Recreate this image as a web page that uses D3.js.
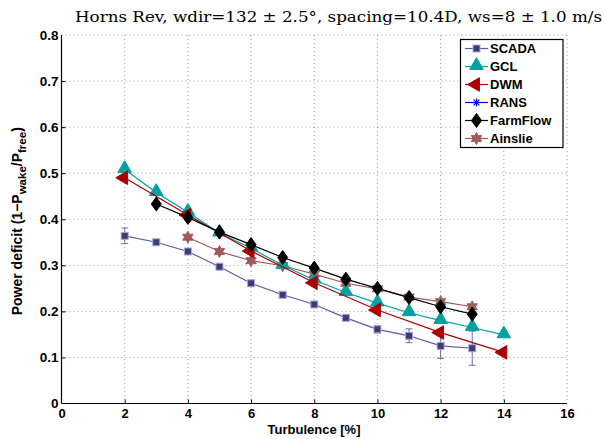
<!DOCTYPE html>
<html><head><meta charset="utf-8">
<script src="https://cdn.jsdelivr.net/npm/d3@7"></script>
<style>body{margin:0;background:#fff}svg{display:block}</style>
</head><body>
<script>
// ---- data ----
const scadaX = [2,3,4,5,6,7,8,9,10,11,12,13];
const scadaY = [0.364,0.350,0.330,0.297,0.261,0.236,0.215,0.186,0.161,0.147,0.125,0.120];
const scadaErr = [0.017,0.005,0.005,0.003,0.003,0.003,0.003,0.004,0.008,0.015,0.027,0.037];
const gclX = [2,3,4,5,6,7,8,9,10,11,12,13,14];
const gclY = [0.508,0.458,0.415,0.370,0.337,0.300,0.268,0.241,0.218,0.197,0.180,0.165,0.149];
const dwmX = [2,4,6,8,10,12,14];
const dwmY = [0.490,0.409,0.331,0.262,0.203,0.154,0.111];
const ransX = [];
const ransY = [];
const ffX = [3,4,5,6,7,8,9,10,11,12,13];
const ffY = [0.433,0.404,0.372,0.345,0.317,0.294,0.270,0.250,0.230,0.210,0.194];
const ainX = [4,5,6,7,8,9,10,11,12,13];
const ainY = [0.361,0.330,0.310,0.299,0.281,0.261,0.249,0.231,0.221,0.210];
const xTicks = [0,2,4,6,8,10,12,14,16];
const yTicks = [0,0.1,0.2,0.3,0.4,0.5,0.6,0.7,0.8];
const legendNames = ["SCADA","GCL","DWM","RANS","FarmFlow","Ainslie"];
const titleText = "Horns Rev, wdir=132 \u00b1 2.5\u00b0, spacing=10.4D, ws=8 \u00b1 1.0 m/s";

// ---- layout ----
const W = 605, H = 439;
const L = 61.5, R = 567, T = 35, B = 403.5;
const svg = d3.select("body").append("svg").attr("width", W).attr("height", H);
const x = d3.scaleLinear().domain([0,16]).range([L,R]);
const y = d3.scaleLinear().domain([0,0.8]).range([B,T]);
const font = "'Liberation Sans', Arial, sans-serif";

// grid
const g = svg.append("g");
g.selectAll(".gx").data(xTicks.slice(1)).enter().append("line")
  .attr("x1", d=>x(d)).attr("x2", d=>x(d)).attr("y1", T).attr("y2", B)
  .attr("stroke", "#999").attr("stroke-width", 1).attr("stroke-dasharray", "1,3");
g.selectAll(".gy").data(yTicks.slice(1)).enter().append("line")
  .attr("y1", d=>y(d)).attr("y2", d=>y(d)).attr("x1", L).attr("x2", R)
  .attr("stroke", "#999").attr("stroke-width", 1).attr("stroke-dasharray", "1,3");

// axes
const xAxis = d3.axisBottom(x).tickValues(xTicks).tickSize(-4).tickPadding(5).tickFormat(d3.format("d"));
const yAxis = d3.axisLeft(y).tickValues(yTicks).tickSize(-4).tickPadding(3).tickFormat(d => d===0 ? "0" : d3.format(".1f")(d));
const gx = svg.append("g").attr("transform", `translate(0,${B})`).call(xAxis);
const gy = svg.append("g").attr("transform", `translate(${L},0)`).call(yAxis);
[gx, gy].forEach(a => {
  a.select(".domain").attr("stroke", "#000").attr("stroke-width", 1.2);
  a.selectAll(".tick line").attr("stroke", "#000");
  a.selectAll("text").attr("font-family", font).attr("font-weight", "bold").attr("font-size", 13.5).attr("fill", "#000");
});
gx.selectAll("text").attr("font-size", 13);
gx.select(".domain").attr("d", `M${L},0H${R}`);
gy.select(".domain").attr("d", `M0,${B}V${T}`);
gx.selectAll(".tick").filter(d => d===16 || d===0).select("line").remove();
gy.selectAll(".tick").filter(d => d===0.8 || d===0).select("line").remove();

// title
svg.append("text").attr("x", 75).attr("y", 22)
  .attr("font-family", "'DejaVu Serif', serif").attr("font-size", 15).attr("fill", "#000")
  .attr("textLength", 527).attr("lengthAdjust", "spacingAndGlyphs")
  .text(titleText);

// axis labels
svg.append("text").attr("x", 314).attr("y", 434).attr("text-anchor", "middle")
  .attr("font-family", font).attr("font-weight", "bold").attr("font-size", 13).text("Turbulence [%]");
const yl = svg.append("text").attr("transform", `translate(21.5,${(T+B)/2+2}) rotate(-90)`)
  .attr("text-anchor", "middle").attr("font-family", font).attr("font-weight", "bold").attr("font-size", 14);
yl.append("tspan").text("Power deficit (1\u2212P");
yl.append("tspan").attr("font-size", 11.5).attr("dy", 4).text("wake");
yl.append("tspan").attr("dy", -4).text("/P");
yl.append("tspan").attr("font-size", 11.5).attr("dy", 4).text("free");
yl.append("tspan").attr("dy", -4).text(")");

// marker drawers
function hexagram(r){
  const pts=[];
  for(let i=0;i<12;i++){const a=-Math.PI/2+i*Math.PI/6;const rr=i%2?r*0.55:r;pts.push([rr*Math.cos(a),rr*Math.sin(a)]);}
  return "M"+pts.map(p=>p.join(",")).join("L")+"Z";
}
const markers = {
  SCADA: (s,cx,cy)=>s.append("rect").attr("x",cx-3.5).attr("y",cy-3.5).attr("width",7).attr("height",7)
           .attr("fill","#3c3c70").attr("stroke","#a8a8d8").attr("stroke-width",1),
  GCL: (s,cx,cy)=>s.append("path").attr("d",d3.symbol(d3.symbolTriangle,80)()).attr("transform",`translate(${cx},${cy-1})`)
           .attr("fill","#00a0a0").attr("stroke","#00a0a0"),
  DWM: (s,cx,cy)=>s.append("path").attr("d",d3.symbol(d3.symbolTriangle,80)()).attr("transform",`translate(${cx-1},${cy}) rotate(-90)`)
           .attr("fill","#aa0000").attr("stroke","#aa0000"),
  RANS: (s,cx,cy)=>{const r=4;const gg=s.append("g").attr("stroke","#0000ee").attr("stroke-width",1.2);
           gg.append("line").attr("x1",cx-r).attr("x2",cx+r).attr("y1",cy).attr("y2",cy);
           gg.append("line").attr("x1",cx).attr("x2",cx).attr("y1",cy-r).attr("y2",cy+r);
           gg.append("line").attr("x1",cx-r*0.7).attr("x2",cx+r*0.7).attr("y1",cy-r*0.7).attr("y2",cy+r*0.7);
           gg.append("line").attr("x1",cx-r*0.7).attr("x2",cx+r*0.7).attr("y1",cy+r*0.7).attr("y2",cy-r*0.7);},
  FarmFlow: (s,cx,cy)=>s.append("path").attr("d","M0,-7L5,0L0,7L-5,0Z").attr("transform",`translate(${cx},${cy})`)
           .attr("fill","#000").attr("stroke","#000"),
  Ainslie: (s,cx,cy)=>s.append("path").attr("d",hexagram(6)).attr("transform",`translate(${cx},${cy})`)
           .attr("fill","#a05a5a").attr("stroke","#a05a5a")
};
const colors = {SCADA:"#5a5aa8",GCL:"#00a0a0",DWM:"#aa0000",RANS:"#0000ee",FarmFlow:"#000",Ainslie:"#a05a5a"};

const line = d3.line().x(d=>x(d[0])).y(d=>y(d[1]));
function drawSeries(name, xs, ys){
  const data = xs.map((v,i)=>[v, ys[i]]);
  const s = svg.append("g");
  s.append("path").datum(data).attr("d", line).attr("fill","none").attr("stroke", colors[name]).attr("stroke-width", 1.2);
  data.forEach(d => markers[name](s, x(d[0]), y(d[1])));
  return s;
}

// SCADA error bars
const eb = svg.append("g").attr("stroke", "#6a6ab8").attr("stroke-width", 1);
scadaX.forEach((v,i)=>{
  const cx=x(v), y1=y(scadaY[i]+scadaErr[i]), y2=y(scadaY[i]-scadaErr[i]);
  eb.append("line").attr("x1",cx).attr("x2",cx).attr("y1",y1).attr("y2",y2);
  eb.append("line").attr("x1",cx-3.5).attr("x2",cx+3.5).attr("y1",y1).attr("y2",y1);
  eb.append("line").attr("x1",cx-3.5).attr("x2",cx+3.5).attr("y1",y2).attr("y2",y2);
});
drawSeries("SCADA", scadaX, scadaY);
drawSeries("Ainslie", ainX, ainY);
drawSeries("GCL", gclX, gclY);
drawSeries("DWM", dwmX, dwmY);
drawSeries("RANS", ransX, ransY);
drawSeries("FarmFlow", ffX, ffY);

// legend
const lg = svg.append("g");
lg.append("rect").attr("x",460.5).attr("y",39.5).attr("width",102.5).attr("height",108)
  .attr("fill","#fff").attr("stroke","#000").attr("stroke-width",1.2);
legendNames.forEach((n,i)=>{
  const cy = 48.5 + i*18;
  lg.append("line").attr("x1",465).attr("x2",488).attr("y1",cy).attr("y2",cy).attr("stroke",colors[n]).attr("stroke-width",1.2);
  markers[n](lg, 476.5, cy);
  lg.append("text").attr("x",490).attr("y",cy+4.5).attr("font-family",font).attr("font-weight","bold")
    .attr("font-size",13).text(n);
});
</script>
</body></html>
